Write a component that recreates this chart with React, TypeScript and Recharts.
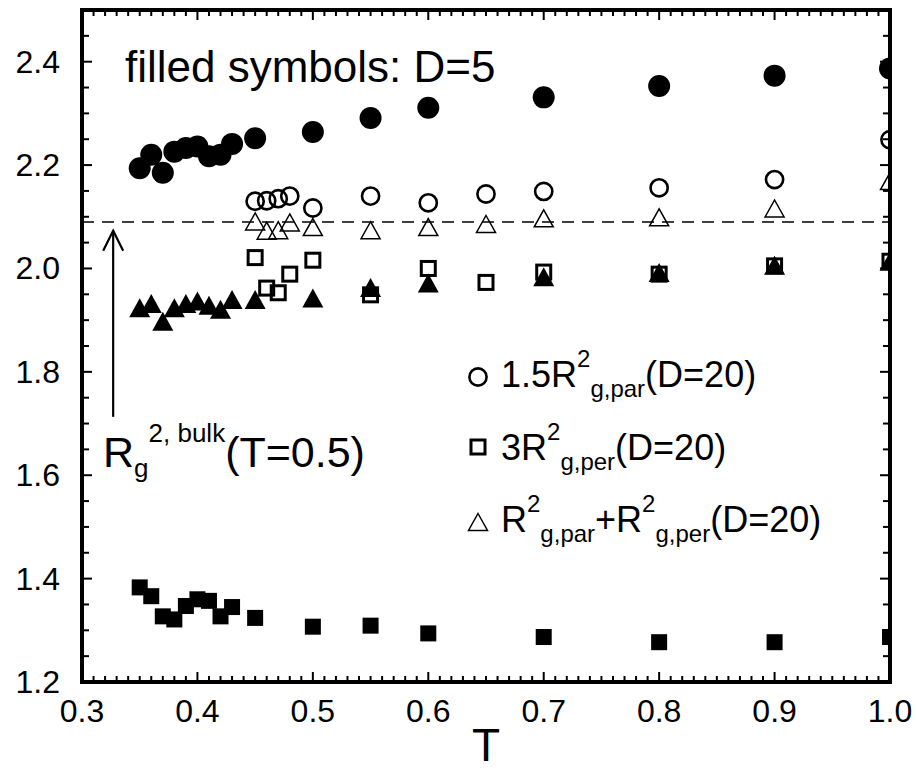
import React from 'react'
import {
  ScatterChart,
  Scatter,
  XAxis,
  YAxis,
  ReferenceLine,
  ReferenceArea,
  Customized,
} from 'recharts'

const FONT = "'Liberation Sans', Arial, Helvetica, sans-serif"

// temperatures
const tD5 = [0.35, 0.36, 0.37, 0.38, 0.39, 0.4, 0.41, 0.42, 0.43, 0.45, 0.5, 0.55, 0.6, 0.7, 0.8, 0.9, 1.0]
const tD20 = [0.45, 0.46, 0.47, 0.48, 0.5, 0.55, 0.6, 0.65, 0.7, 0.8, 0.9, 1.0]

// filled symbols, D=5
const circD5 = [2.194, 2.22, 2.185, 2.226, 2.233, 2.236, 2.217, 2.22, 2.241, 2.252, 2.264, 2.291, 2.311, 2.331, 2.353, 2.373, 2.387]
const triD5 = [1.924, 1.932, 1.898, 1.924, 1.932, 1.937, 1.929, 1.921, 1.94, 1.94, 1.943, 1.963, 1.972, 1.984, 1.992, 2.006, 2.014]
const sqD5 = [1.383, 1.366, 1.327, 1.321, 1.347, 1.36, 1.357, 1.327, 1.345, 1.324, 1.307, 1.309, 1.294, 1.287, 1.277, 1.277, 1.287]

// open symbols, D=20
const parD20 = [2.13, 2.131, 2.135, 2.14, 2.117, 2.14, 2.127, 2.144, 2.149, 2.156, 2.172, 2.249]
const perD20 = [2.021, 1.962, 1.953, 1.989, 2.016, 1.949, 2.0, 1.973, 1.993, 1.989, 2.005, 2.014]
const sumD20 = [2.091, 2.073, 2.074, 2.089, 2.08, 2.074, 2.08, 2.086, 2.097, 2.099, 2.116, 2.169]

const bulkValue = 2.09
const arrowT = 0.327
const arrowFrom = 1.713
const arrowTo = 2.073

const xMajor = [0.3, 0.4, 0.5, 0.6, 0.7, 0.8, 0.9, 1.0]
const xTicks = Array.from({ length: 71 }, (_, i) => Math.round(30 + i) / 100)
const yTicks = Array.from({ length: 27 }, (_, i) => Math.round(120 + i * 5) / 100)

const toPoints = (ts: number[], vs: number[]) => ts.map((t, i) => ({ t, v: vs[i] }))

const isMajorX = (v: number) => xMajor.some((m) => Math.abs(m - v) < 1e-6)
const isMajorY = (v: number) => Math.abs(v * 5 - Math.round(v * 5)) < 1e-6

const num = (a: any) => Number(a)

const tickPath = (x1: number, y1: number, x2: number, y2: number) => (
  <path d={`M${x1},${y1}L${x2},${y2}`} stroke='#000' strokeWidth={2} fill='none' />
)

const BottomTick = (p: any) => {
  const v = p.payload.value
  const x = num(p.x)
  const y = num(p.y)
  const major = isMajorX(v)
  return (
    <g>
      {tickPath(x, y, x, y - (major ? 10 : 6))}
      {major && (
        <text x={x} y={y + 40} textAnchor='middle' fontSize={32} fontFamily={FONT} fill='#000'>
          {v.toFixed(1)}
        </text>
      )}
    </g>
  )
}

const TopTick = (p: any) => {
  const x = num(p.x)
  const y = num(p.y)
  const major = isMajorX(p.payload.value)
  return <g>{tickPath(x, y, x, y + (major ? 10 : 6))}</g>
}

const LeftTick = (p: any) => {
  const v = p.payload.value
  const x = num(p.x)
  const y = num(p.y)
  const major = isMajorY(v)
  return (
    <g>
      {tickPath(x, y, x + (major ? 10 : 7), y)}
      {major && (
        <text x={x - 22} y={y + 11} textAnchor='end' fontSize={32} fontFamily={FONT} fill='#000'>
          {v.toFixed(1)}
        </text>
      )}
    </g>
  )
}

const RightTick = (p: any) => {
  const x = num(p.x)
  const y = num(p.y)
  const major = isMajorY(p.payload.value)
  return <g>{tickPath(x, y, x - (major ? 10 : 7), y)}</g>
}

// marker shapes
const FilledCircle = ({ cx, cy }: any) => <circle cx={cx} cy={cy} r={11} fill='#000' />
const OpenCircle = ({ cx, cy }: any) => (
  <circle cx={cx} cy={cy} r={8.6} fill='none' stroke='#000' strokeWidth={2.6} />
)
const OpenSquare = ({ cx, cy }: any) => (
  <rect x={cx - 7} y={cy - 7} width={14} height={14} fill='none' stroke='#000' strokeWidth={3} />
)
const FilledSquare = ({ cx, cy }: any) => (
  <rect x={cx - 8} y={cy - 8} width={16} height={16} fill='#000' />
)
const tri = (cx: number, cy: number, w: number, h: number) =>
  `M${cx},${cy - h / 2} L${cx + w / 2},${cy + h / 2} L${cx - w / 2},${cy + h / 2} Z`
const OpenTriangle = ({ cx, cy }: any) => (
  <path d={tri(cx, cy, 19, 17)} fill='none' stroke='#000' strokeWidth={1.5} />
)
const FilledTriangle = ({ cx, cy }: any) => <path d={tri(cx, cy, 21, 19)} fill='#000' />

const Arrow = (p: any) => {
  const x1 = num(p.x1)
  const y1 = num(p.y1)
  const x2 = num(p.x2)
  const y2 = num(p.y2)
  return (
    <g stroke='#000' strokeWidth={2.2} fill='none'>
      <path d={`M${x1},${y1}L${x2},${y2}`} />
      <path d={`M${x2 - 10},${y2 + 20}L${x2},${y2}L${x2 + 10},${y2 + 20}`} />
    </g>
  )
}

const Annotations = () => (
  <g fontFamily={FONT} fill='#000'>
    <text x={125} y={82} fontSize={44}>filled symbols: D=5</text>
    <text x={103} y={467} fontSize={43}>
      R
      <tspan fontSize={26} dy={10}>g</tspan>
      <tspan fontSize={26} dy={-35}>2, bulk</tspan>
      <tspan fontSize={43} dy={25}>(T=0.5)</tspan>
    </text>

    <OpenCircle cx={478} cy={377} />
    <text x={501} y={387} fontSize={36}>
      1.5R
      <tspan fontSize={24} dy={-20}>2</tspan>
      <tspan fontSize={24} dy={30}>g,par</tspan>
      <tspan fontSize={36} dy={-10}>(D=20)</tspan>
    </text>

    <OpenSquare cx={478} cy={447} />
    <text x={501} y={460} fontSize={36}>
      3R
      <tspan fontSize={24} dy={-20}>2</tspan>
      <tspan fontSize={24} dy={30}>g,per</tspan>
      <tspan fontSize={36} dy={-10}>(D=20)</tspan>
    </text>

    <OpenTriangle cx={478} cy={522} />
    <text x={501} y={532} fontSize={36}>
      R
      <tspan fontSize={24} dy={-20}>2</tspan>
      <tspan fontSize={24} dy={30}>g,par</tspan>
      <tspan fontSize={36} dy={-10}>+R</tspan>
      <tspan fontSize={24} dy={-20}>2</tspan>
      <tspan fontSize={24} dy={30}>g,per</tspan>
      <tspan fontSize={36} dy={-10}>(D=20)</tspan>
    </text>

    <text x={486} y={761} fontSize={46} textAnchor='middle'>T</text>
  </g>
)

export default function App() {
  return (
    <div style={{ position: 'absolute', left: 0, top: 0, width: 917, height: 772, background: '#fff' }}>
      <ScatterChart width={917} height={772} margin={{ top: 9, right: 26, bottom: 0, left: 0 }}>
        <XAxis
          xAxisId='b'
          type='number'
          dataKey='t'
          orientation='bottom'
          domain={[0.3, 1.0]}
          allowDataOverflow
          ticks={xTicks}
          interval={0}
          height={90}
          tickSize={0}
          tickMargin={0}
          tickLine={false}
          axisLine={false}
          tick={BottomTick}
        />
        <XAxis
          xAxisId='t'
          type='number'
          dataKey='t'
          orientation='top'
          domain={[0.3, 1.0]}
          allowDataOverflow
          ticks={xTicks}
          interval={0}
          height={1}
          tickSize={0}
          tickMargin={0}
          tickLine={false}
          axisLine={false}
          tick={TopTick}
        />
        <YAxis
          yAxisId='l'
          type='number'
          dataKey='v'
          orientation='left'
          domain={[1.2, 2.5]}
          allowDataOverflow
          ticks={yTicks}
          interval={0}
          width={82}
          tickSize={0}
          tickMargin={0}
          tickLine={false}
          axisLine={false}
          tick={LeftTick}
        />
        <YAxis
          yAxisId='r'
          type='number'
          dataKey='v'
          orientation='right'
          domain={[1.2, 2.5]}
          allowDataOverflow
          ticks={yTicks}
          interval={0}
          width={1}
          tickSize={0}
          tickMargin={0}
          tickLine={false}
          axisLine={false}
          tick={RightTick}
        />

        <ReferenceArea
          xAxisId='b'
          yAxisId='l'
          x1={0.3}
          x2={1.0}
          y1={1.2}
          y2={2.5}
          fill='none'
          fillOpacity={0}
          stroke='#000'
          strokeWidth={4}
          strokeOpacity={1}
          ifOverflow='visible'
        />
        <ReferenceLine
          xAxisId='b'
          yAxisId='l'
          y={bulkValue}
          stroke='#000'
          strokeWidth={1.5}
          strokeDasharray='12 8'
        />
        <ReferenceLine
          xAxisId='b'
          yAxisId='l'
          segment={[
            { x: arrowT, y: arrowFrom },
            { x: arrowT, y: arrowTo },
          ]}
          shape={Arrow}
        />

        <Scatter xAxisId='b' yAxisId='l' data={toPoints(tD5, circD5)} shape={FilledCircle} isAnimationActive={false} />
        <Scatter xAxisId='b' yAxisId='l' data={toPoints(tD20, parD20)} shape={OpenCircle} isAnimationActive={false} />
        <Scatter xAxisId='b' yAxisId='l' data={toPoints(tD20, sumD20)} shape={OpenTriangle} isAnimationActive={false} />
        <Scatter xAxisId='b' yAxisId='l' data={toPoints(tD20, perD20)} shape={OpenSquare} isAnimationActive={false} />
        <Scatter xAxisId='b' yAxisId='l' data={toPoints(tD5, triD5)} shape={FilledTriangle} isAnimationActive={false} />
        <Scatter xAxisId='b' yAxisId='l' data={toPoints(tD5, sqD5)} shape={FilledSquare} isAnimationActive={false} />

        <Customized component={Annotations} />
      </ScatterChart>
    </div>
  )
}
